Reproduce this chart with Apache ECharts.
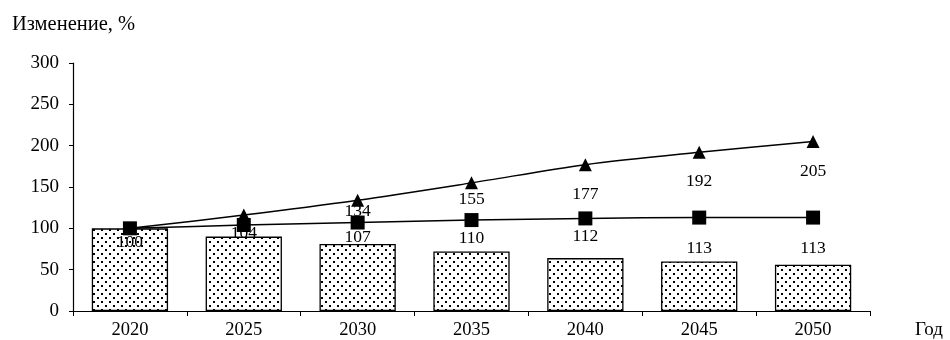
<!DOCTYPE html>
<html>
<head>
<meta charset="utf-8">
<script src="https://cdn.jsdelivr.net/npm/echarts@6/dist/echarts.min.js"></script>
<style>
  html, body { margin: 0; padding: 0; background: #fff; }
  #chart { width: 950px; height: 340px; }
</style>
</head>
<body>
<div id="chart"></div>
<script>
// Years on the category axis
const years = ['2020', '2025', '2030', '2035', '2040', '2045', '2050'];
// Bars (dotted fill)
const barValues = [100, 90, 81, 72, 64, 60, 56];
// Line with square markers
const squareValues = [100, 104, 107, 110, 112, 113, 113];
// Line with triangle markers
const triangleValues = [100, 116, 134, 155, 177, 192, 205];
// Which triangle points carry a value label
const triangleLabelShown = [false, false, true, true, true, true, true];
// Y axis ticks
const yMin = 0, yMax = 300, yStep = 50;

// Vertical label offsets below each marker (pixels)
const squareLabelDy = [14, 8, 15, 18, 18, 31, 31];
const triangleLabelDy = [0, 0, 11, 17, 30, 29, 30];

const FONT = '"Liberation Serif", "Times New Roman", serif';

// Dotted pattern tile for the bars
function makeDotTile() {
  const c = document.createElement('canvas');
  c.width = 8; c.height = 8;
  const g = c.getContext('2d');
  g.fillStyle = '#fff';
  g.fillRect(0, 0, 8, 8);
  g.fillStyle = '#000';
  g.fillRect(1, 1, 2, 2);
  g.fillRect(5, 5, 2, 2);
  return c;
}

const chart = echarts.init(document.getElementById('chart'), null, { renderer: 'canvas' });

function labelled(values, dys, shown) {
  return values.map((v, i) => ({
    value: v,
    label: {
      show: shown ? shown[i] : true,
      position: 'inside',
      offset: [0, dys[i]]
    }
  }));
}

const option = {
  animation: false,
  backgroundColor: '#fff',
  textStyle: { fontFamily: FONT, color: '#000' },
  grid: { left: 73, right: 80, top: 63, bottom: 28, containLabel: false },
  xAxis: {
    type: 'category',
    data: years,
    boundaryGap: true,
    axisLine: { show: true, lineStyle: { color: '#000', width: 1.2 } },
    axisTick: { show: true, alignWithLabel: false, length: 5, lineStyle: { color: '#000', width: 1 } },
    axisLabel: { color: '#000', fontFamily: FONT, fontSize: 18.5, margin: 10 },
    splitLine: { show: false }
  },
  yAxis: {
    type: 'value',
    min: yMin, max: yMax, interval: yStep,
    axisLine: { show: true, lineStyle: { color: '#000', width: 1.2 } },
    axisTick: { show: true, length: 4, lineStyle: { color: '#000', width: 1 } },
    axisLabel: { color: '#000', fontFamily: FONT, fontSize: 19, margin: 14 },
    splitLine: { show: false }
  },
  graphic: [
    { type: 'text', left: 12, top: 14,
      style: { text: 'Изменение, %', font: '20.5px ' + FONT, fill: '#000' } },
    { type: 'text', left: 915, top: 321,
      style: { text: 'Год', font: '19px ' + FONT, fill: '#000' } }
  ],
  series: [
    {
      type: 'bar',
      data: barValues,
      barCategoryGap: '33%',
      itemStyle: {
        color: { image: makeDotTile(), repeat: 'repeat' },
        borderColor: '#000',
        borderWidth: 1.3
      },
      z: 1
    },
    {
      type: 'line',
      data: labelled(triangleValues, triangleLabelDy, triangleLabelShown),
      smooth: 0.3,
      symbol: 'triangle',
      symbolSize: [13, 13],
      lineStyle: { color: '#000', width: 1.5 },
      itemStyle: { color: '#000' },
      label: { color: '#000', fontFamily: FONT, fontSize: 17.5 },
      z: 3
    },
    {
      type: 'line',
      data: labelled(squareValues, squareLabelDy),
      smooth: 0.3,
      symbol: 'rect',
      symbolSize: 14,
      lineStyle: { color: '#000', width: 1.5 },
      itemStyle: { color: '#000' },
      label: { color: '#000', fontFamily: FONT, fontSize: 17.5 },
      z: 4
    }
  ]
};

chart.setOption(option);
</script>
</body>
</html>
